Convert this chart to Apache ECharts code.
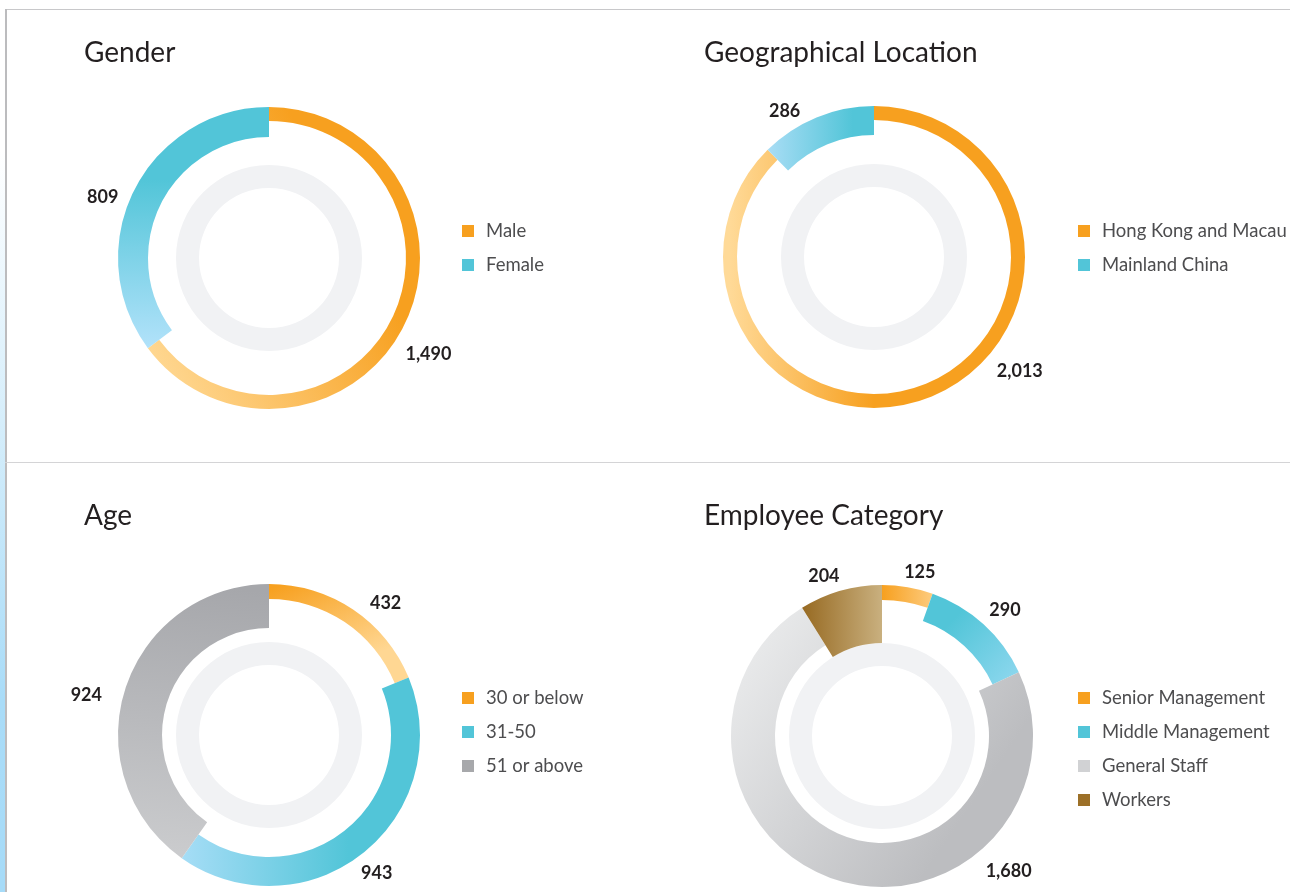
<!DOCTYPE html>
<html>
<head>
<meta charset="utf-8">
<script src="https://cdn.jsdelivr.net/npm/echarts@6/dist/echarts.min.js"></script>
<style>
  body { margin: 0; background: #fff; }
  #wrap { position: relative; width: 1301px; height: 892px; overflow: hidden; }
  #chart { position: absolute; left: 0; top: 0; width: 1301px; height: 892px; }
  .line { position: absolute; }
</style>
</head>
<body>
<div id="wrap">
  <div class="line" style="left:0;top:0;width:5px;height:892px;background:linear-gradient(to bottom,#ffffff 0px,#ffffff 150px,#d6eefb 420px,#a9dcf8 700px,#a6dbf8 892px)"></div>
  <div class="line" style="left:5px;top:9px;width:1285px;height:1px;background:#c8c8ca"></div>
  <div class="line" style="left:5px;top:9px;width:2px;height:883px;background:#bcbcbe"></div>
  <div class="line" style="left:5px;top:462px;width:1285px;height:1px;background:#d4d4d6"></div>
  <div id="chart"></div>
</div>
<script>
// 数据
var genderNames = ['Male', 'Female']
var genderValues = [1490, 809]
var locationNames = ['Hong Kong and Macau', 'Mainland China']
var locationValues = [2013, 286]
var ageNames = ['30 or below', '31-50', '51 or above']
var ageValues = [432, 943, 924]
var categoryNames = ['Senior Management', 'Middle Management', 'General Staff', 'Workers']
var categoryValues = [125, 290, 1680, 204]

var FONT = 'Lato'
var OUTER = 151

function grad(x, y, x2, y2, c1, c2) {
  return new echarts.graphic.LinearGradient(x, y, x2, y2, [
    { offset: 0, color: c1 },
    { offset: 1, color: c2 }
  ])
}

// 四个面板的样式
var panels = [{
    title: 'Gender',
    names: genderNames,
    values: genderValues,
    center: [269, 258],
    titlePos: [84, 39],
    legendPos: [462, 221],
    inner: [137, 121],
    fills: [
      grad(0.85, 0.55, 0.05, 0.95, '#f7a01f', '#ffd995'),
      grad(0, 0.3, 0, 1, '#52c5d8', '#b2e2fa')
    ],
    icons: ['#f7a01f', '#52c5d8'],
    labelAngle: [121, 290],
    labelDist: [186, 177]
  },
  {
    title: 'Geographical Location',
    names: locationNames,
    values: locationValues,
    center: [874, 257],
    titlePos: [704, 39],
    legendPos: [1078, 221],
    inner: [137, 122],
    fills: [
      grad(0.02, 0.5, 0.5, 0.5, '#ffda98', '#f7a01f'),
      grad(0, 0, 0.8, 0, '#a9ddf5', '#52c5d8')
    ],
    icons: ['#f7a01f', '#52c5d8'],
    labelAngle: [128, 328.5],
    labelDist: [185, 171]
  },
  {
    title: 'Age',
    names: ageNames,
    values: ageValues,
    center: [269, 735],
    titlePos: [84, 502],
    legendPos: [462, 688],
    inner: [136, 122, 107],
    fills: [
      grad(0, 0.05, 0.3, 1, '#f7a01f', '#ffd793'),
      grad(0, 0, 0.7, 0, '#a6ddf6', '#52c5d8'),
      grad(0.5, 0, 0.3, 1, '#a6a7ab', '#cbccce')
    ],
    icons: ['#f7a01f', '#52c5d8', '#a7a8ab'],
    labelAngle: [41.5, 142, 282.3],
    labelDist: [176, 175, 187]
  },
  {
    title: 'Employee Category',
    names: categoryNames,
    values: categoryValues,
    center: [882, 736],
    titlePos: [704, 502],
    legendPos: [1078, 688],
    inner: [136, 122, 107, 93],
    fills: [
      grad(0, 0, 1, 0, '#f7a01f', '#fdcb7e'),
      grad(0.3, 0.3, 1, 1, '#52c5d8', '#90d8ef'),
      grad(0.05, 0.15, 0.8, 0.7, '#e9eaeb', '#bcbdc0'),
      grad(0, 0, 1, 0, '#976a22', '#c9b07f')
    ],
    icons: ['#f7a01f', '#52c5d8', '#d1d2d4', '#9c7028'],
    labelAngle: [13, 44.3, 136.8, 340],
    labelDist: [168, 176, 185, 170]
  }
]

var titles = []
var legends = []
var series = []

panels.forEach(function (p) {
  titles.push({
    text: p.title,
    left: p.titlePos[0],
    top: p.titlePos[1],
    padding: 0,
    textStyle: { fontFamily: FONT, fontSize: 28, fontWeight: 'normal', color: '#231f20' }
  })

  legends.push({
    orient: 'vertical',
    left: p.legendPos[0],
    top: p.legendPos[1],
    padding: 0,
    itemWidth: 12,
    itemHeight: 12,
    itemGap: 14,
    icon: 'rect',
    selectedMode: false,
    textStyle: { fontFamily: FONT, fontSize: 18.5, color: '#4d4d4f', lineHeight: 20, padding: [0, 0, 0, 7] },
    data: p.names.map(function (n, i) {
      return { name: n, itemStyle: { color: p.icons[i] } }
    })
  })

  // 灰色内圈
  series.push({
    type: 'pie',
    silent: true,
    center: p.center,
    radius: [70, 93],
    label: { show: false },
    labelLine: { show: false },
    itemStyle: { color: '#f1f2f4', borderWidth: 0 },
    data: [{ value: 1, name: '' }]
  })

  // 每一段单独一个系列，内半径不同
  p.names.forEach(function (name, k) {
    series.push({
      type: 'pie',
      center: p.center,
      radius: [p.inner[k], OUTER],
      startAngle: 90,
      clockwise: true,
      avoidLabelOverlap: false,
      labelLine: { show: false },
      label: {
        position: 'outside',
        fontFamily: FONT,
        fontSize: 18,
        fontWeight: 'bold',
        color: '#231f20',
        formatter: function (params) {
          return echarts.format.addCommas(params.value)
        }
      },
      labelLayout: function () {
        var a = p.labelAngle[k] * Math.PI / 180
        return {
          x: p.center[0] + p.labelDist[k] * Math.sin(a),
          y: p.center[1] - p.labelDist[k] * Math.cos(a),
          align: 'center',
          verticalAlign: 'middle'
        }
      },
      data: p.names.map(function (n, j) {
        return {
          name: n,
          value: p.values[j],
          itemStyle: j === k ? { color: p.fills[k], borderWidth: 0 } : { color: 'rgba(0,0,0,0)', borderWidth: 0 },
          label: { show: j === k }
        }
      })
    })
  })
})

var chart = echarts.init(document.getElementById('chart'), null, { renderer: 'canvas' })
chart.setOption({
  animation: false,
  title: titles,
  legend: legends,
  series: series
})
</script>
</body>
</html>
